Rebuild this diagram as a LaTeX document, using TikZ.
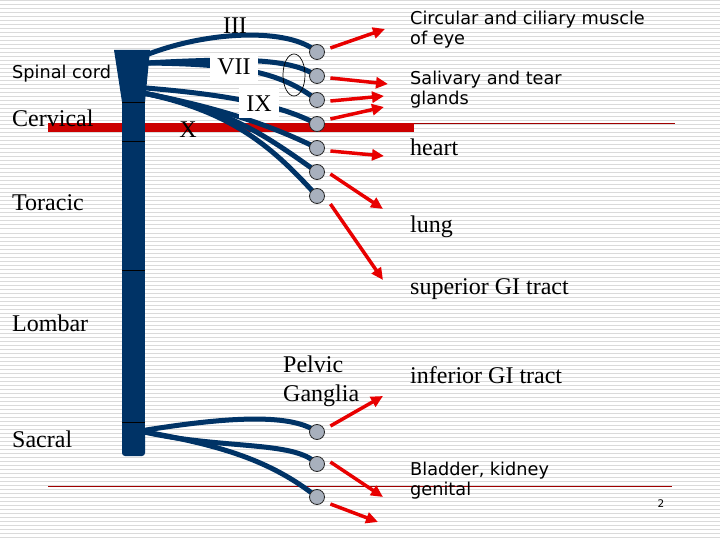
\documentclass[tikz,border=0pt]{standalone}
\usepackage{fontspec}
\setmainfont{Liberation Serif}
\newfontfamily\sansf{DejaVu Sans}
\usetikzlibrary{arrows.meta}
\definecolor{navy}{RGB}{0,51,102}
\definecolor{arrred}{RGB}{232,0,0}
\definecolor{barred}{RGB}{204,0,0}
\definecolor{thinred}{RGB}{160,0,0}
\definecolor{ganggray}{RGB}{168,176,189}
\definecolor{stripe}{RGB}{218,218,218}
\begin{document}
\begin{tikzpicture}[x=1pt,y=-1pt,
  fiber/.style={draw=navy,line width=5pt},
  ganglion/.style={circle,draw=black!85,fill=ganggray,line width=0.8pt,minimum size=15pt,inner sep=0pt},
  eff/.style={draw=arrred,line width=3.5pt,-{Triangle[length=12pt,width=11pt]}},
  serif/.style={font=\fontsize{24}{28}\selectfont,inner sep=0pt,anchor=base west},
  sans/.style={font=\sansf\fontsize{17.7}{20}\selectfont,inner sep=0pt,anchor=base west},
  roman/.style={font=\fontsize{24}{28}\selectfont,inner sep=0pt},
  labelbox/.style={roman,fill=white}
]
\useasboundingbox (0,0) rectangle (720,540);
\fill[white] (0,0) rectangle (720,540);
% background stripes
\foreach \yy in {1,5,...,537} \draw[stripe,line width=1pt] (0,\yy) -- (720,\yy);
% red lines
\fill[barred] (48,123) rectangle (414,132);
\draw[thinred,line width=1.2pt] (414,123.8) -- (675,123.8);
\draw[thinred,line width=1pt] (48,486) -- (672,486);
% ganglion positions
\coordinate (g1) at (317,52);
\coordinate (g2) at (317,76);
\coordinate (g3) at (317,100);
\coordinate (g4) at (317,124);
\coordinate (g5) at (317,148);
\coordinate (g6) at (317,172);
\coordinate (g7) at (317,196);
\coordinate (g8) at (317,432);
\coordinate (g9) at (317,464);
\coordinate (g10) at (317,497);
% fibre origins on the cord
\coordinate (c1) at (146,55);
\coordinate (c2) at (146,63);
\coordinate (c3) at (146,88);
\coordinate (c4) at (143,93);
\coordinate (s0) at (140,431);
% fibres
\draw[fiber] (c1) .. controls (210,30) and (290,28) .. (g1);
\draw[fiber] (c2) .. controls (240,58) and (290,58) .. (g2);
\draw[fiber] (c2) .. controls (240,64) and (280,72) .. (g3);
\draw[fiber] (c3) .. controls (230,95) and (280,105) .. (g4);
\draw[fiber] (c4) .. controls (220,108) and (270,125) .. (g5);
\draw[fiber] (c4) .. controls (230,110) and (265,135) .. (g6);
\draw[fiber] (c4) .. controls (235,112) and (275,150) .. (g7);
\draw[fiber] (s0) .. controls (220,418) and (290,412) .. (g8);
\draw[fiber] (s0) .. controls (220,450) and (295,440) .. (g9);
\draw[fiber] (s0) .. controls (220,445) and (270,460) .. (g10);
% nerve labels
\node[labelbox,minimum width=48pt,minimum height=28pt] (vii) at (234,67) {VII};
\node[labelbox,minimum width=40pt,minimum height=30pt] (ix) at (259,103.5) {IX};
\node[roman] (iii) at (235,26) {III};
\node[roman] (x) at (188,130) {X};
% spinal cord
\fill[navy] (114,50) -- (150,50) -- (145,102) -- (122,102) -- cycle;
\fill[navy] (122,102) rectangle (145,440);
\fill[navy,rounded corners=3pt] (122,425) rectangle (145,456);
\foreach \yy in {102,141,270,422} \draw[black,line width=0.8pt] (122,\yy) -- (145,\yy);
% ellipse around VII fibres
\draw[black,line width=0.7pt] (294,75) ellipse [x radius=11, y radius=21];
% ganglia
\foreach \i in {1,...,10} \node[ganglion] (G\i) at (g\i) {};
% effector targets
\coordinate (t1) at (385,29);
\coordinate (t2) at (388,84);
\coordinate (t3) at (384,96);
\coordinate (t4) at (384,107);
\coordinate (t5) at (384,156);
\coordinate (t6) at (383,209);
\coordinate (t7) at (383,280);
\coordinate (t8) at (383,396);
\coordinate (t9) at (383,497);
\coordinate (t10) at (378,522);
% efferent arrows
\draw[eff] ([shift={(5.5,-4)}]G1.east) -- (t1);
\draw[eff] ([shift={(5.5,2)}]G2.east) -- (t2);
\draw[eff] ([shift={(5.5,1)}]G3.east) -- (t3);
\draw[eff] ([shift={(5.5,-5)}]G4.east) -- (t4);
\draw[eff] ([shift={(5.5,3)}]G5.east) -- (t5);
\draw[eff] ([shift={(5.5,2)}]G6.east) -- (t6);
\draw[eff] ([shift={(5.5,8)}]G7.east) -- (t7);
\draw[eff] ([shift={(5.5,-6)}]G8.east) -- (t8);
\draw[eff] ([shift={(5.5,-2)}]G9.east) -- (t9);
\draw[eff] ([shift={(5.5,7)}]G10.east) -- (t10);
% left labels
\node[sans] (spinal) at (12,79) {Spinal cord};
\node[serif] (cerv) at (12,127) {Cervical};
\node[serif] (tor) at (12,211) {Toracic};
\node[serif] (lom) at (12,331) {Lombar};
\node[serif] (sac) at (12,447) {Sacral};
% right labels
\node[sans] (eye1) at (410,25) {Circular and ciliary muscle};
\node[sans] (eye2) at (410,45) {of eye};
\node[sans] (sal1) at (410,85) {Salivary and tear};
\node[sans] (sal2) at (410,105) {glands};
\node[serif] (heart) at (410,156) {heart};
\node[serif] (lung) at (410,233) {lung};
\node[serif] (sgi) at (410,294) {superior GI tract};
\node[serif] (pel1) at (283,372) {Pelvic};
\node[serif] (pel2) at (283,401) {Ganglia};
\node[serif] (igi) at (410,383) {inferior GI tract};
\node[sans] (bl1) at (410,475) {Bladder, kidney};
\node[sans] (bl2) at (410,495) {genital};
\node[font=\sansf\fontsize{10.5}{12}\selectfont,inner sep=0pt,anchor=base] (pg) at (661,507) {2};
\end{tikzpicture}
\end{document}
